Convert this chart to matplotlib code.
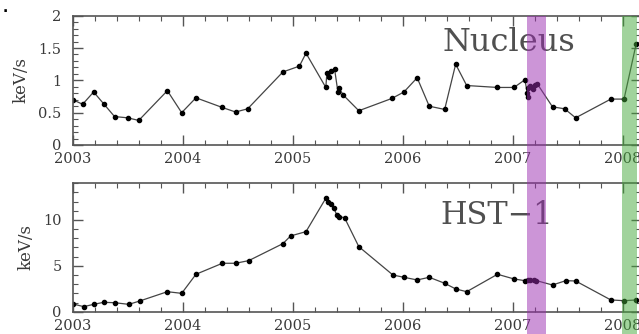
import matplotlib
matplotlib.use("Agg")
import matplotlib.pyplot as plt
from matplotlib.patches import Rectangle
from matplotlib.ticker import MultipleLocator, FuncFormatter
import matplotlib.transforms as mtrans

# Nucleus light curve (year, keV/s)
nuc_t = [2003.00, 2003.09, 2003.19, 2003.28, 2003.38, 2003.50, 2003.60, 2003.86,
         2003.99, 2004.12, 2004.36, 2004.48, 2004.59, 2004.91, 2005.06, 2005.12,
         2005.30, 2005.31, 2005.33, 2005.35, 2005.38, 2005.41, 2005.42, 2005.46,
         2005.60, 2005.90, 2006.01, 2006.13, 2006.24, 2006.38, 2006.48, 2006.58,
         2006.86, 2007.01, 2007.11, 2007.13, 2007.135, 2007.14, 2007.16, 2007.18,
         2007.20, 2007.22, 2007.36, 2007.47, 2007.57, 2007.89, 2008.01, 2008.12]
nuc_v = [0.70, 0.63, 0.82, 0.64, 0.44, 0.42, 0.38, 0.84,
         0.50, 0.73, 0.58, 0.51, 0.56, 1.13, 1.22, 1.42,
         0.89, 1.12, 1.05, 1.15, 1.17, 0.82, 0.88, 0.77,
         0.53, 0.72, 0.82, 1.04, 0.60, 0.55, 1.25, 0.92,
         0.89, 0.89, 1.01, 0.80, 0.74, 0.88, 0.92, 0.86,
         0.93, 0.95, 0.59, 0.56, 0.42, 0.71, 0.71, 1.56]

# HST-1 light curve (year, keV/s)
hst_t = [2003.00, 2003.10, 2003.19, 2003.28, 2003.38, 2003.51, 2003.61, 2003.86,
         2003.99, 2004.12, 2004.36, 2004.48, 2004.60, 2004.91, 2004.98, 2005.12,
         2005.30, 2005.32, 2005.35, 2005.37, 2005.40, 2005.42, 2005.47, 2005.60,
         2005.91, 2006.01, 2006.13, 2006.24, 2006.38, 2006.48, 2006.58, 2006.86,
         2007.01, 2007.11, 2007.14, 2007.16, 2007.19, 2007.21, 2007.36, 2007.48,
         2007.57, 2007.89, 2008.01, 2008.12]
hst_v = [0.85, 0.55, 0.80, 1.02, 0.98, 0.80, 1.17, 2.18,
         2.00, 4.08, 5.28, 5.28, 5.57, 7.42, 8.26, 8.73,
         12.37, 12.00, 11.70, 11.35, 10.55, 10.36, 10.25, 7.09,
         4.00, 3.75, 3.46, 3.75, 3.10, 2.48, 2.18, 4.08,
         3.57, 3.38, 3.42, 3.45, 3.50, 3.40, 2.91, 3.38,
         3.35, 1.28, 1.20, 1.28]

# highlighted epochs (start, end, colour)
bands = [(2007.13, 2007.30, "#9b2db0"),
         (2007.99, 2008.13, "#45a83a")]

x_range = (2003.0, 2008.16)
grey = "#555555"
txt = "#3a3a3a"
serif = "DejaVu Serif"

fig = plt.figure(figsize=(6.39, 3.34), dpi=100)
ax1 = fig.add_axes([0.1138, 0.5659, 0.8886, 0.3871])
ax2 = fig.add_axes([0.1138, 0.0668, 0.8886, 0.3844])


def style(ax, ymax, major, minor):
    ax.set_xlim(*x_range)
    ax.set_ylim(0, ymax)
    ax.xaxis.set_major_locator(MultipleLocator(1))
    ax.xaxis.set_minor_locator(MultipleLocator(0.2))
    ax.yaxis.set_major_locator(MultipleLocator(major))
    ax.yaxis.set_minor_locator(MultipleLocator(minor))
    ax.xaxis.set_major_formatter(FuncFormatter(lambda v, p: "%d" % round(v)))
    ax.yaxis.set_major_formatter(FuncFormatter(lambda v, p: "%g" % v))
    ax.tick_params(which="both", direction="in", top=True, right=True,
                   color=grey, labelcolor=txt, labelsize=10.5)
    ax.tick_params(axis="x", pad=5)
    ax.tick_params(axis="y", pad=8)
    ax.tick_params(which="major", length=7, width=1)
    ax.tick_params(which="minor", length=3.5, width=0.8)
    for lab in ax.get_xticklabels() + ax.get_yticklabels():
        lab.set_family(serif)
    for s in ax.spines.values():
        s.set_color(grey)
        s.set_linewidth(1.2)
    ax.set_ylabel("keV/s", family=serif, fontsize=12, color=txt, labelpad=6)


ax1.plot(nuc_t, nuc_v, color="#444444", lw=0.9, marker="o", ms=3,
         mfc="black", mec="black", clip_on=True)
ax2.plot(hst_t, hst_v, color="#444444", lw=0.9, marker="o", ms=3,
         mfc="black", mec="black", clip_on=True)

style(ax1, 2, 0.5, 0.1)
style(ax2, 14, 5, 1)

ax1.text(2006.36, 1.58, "Nucleus", family=serif, fontsize=23, color="#505050",
         ha="left", va="center")
ax2.text(2006.34, 10.5, "HST\u22121", family=serif, fontsize=22, color="#505050",
         ha="left", va="center")

# bands run from the top of the upper panel to the bottom of the figure
trans = mtrans.blended_transform_factory(ax1.transData, fig.transFigure)
top = ax1.get_position().y1
for x0, x1, c in bands:
    fig.patches.append(Rectangle((x0, 0), x1 - x0, top, transform=trans,
                                 facecolor=c, edgecolor="none", alpha=0.5,
                                 zorder=5))

fig.text(0.004, 0.975, ".", fontsize=10, color="black", ha="left", va="center",
         weight="bold")

fig.savefig("out.png", dpi=100)
